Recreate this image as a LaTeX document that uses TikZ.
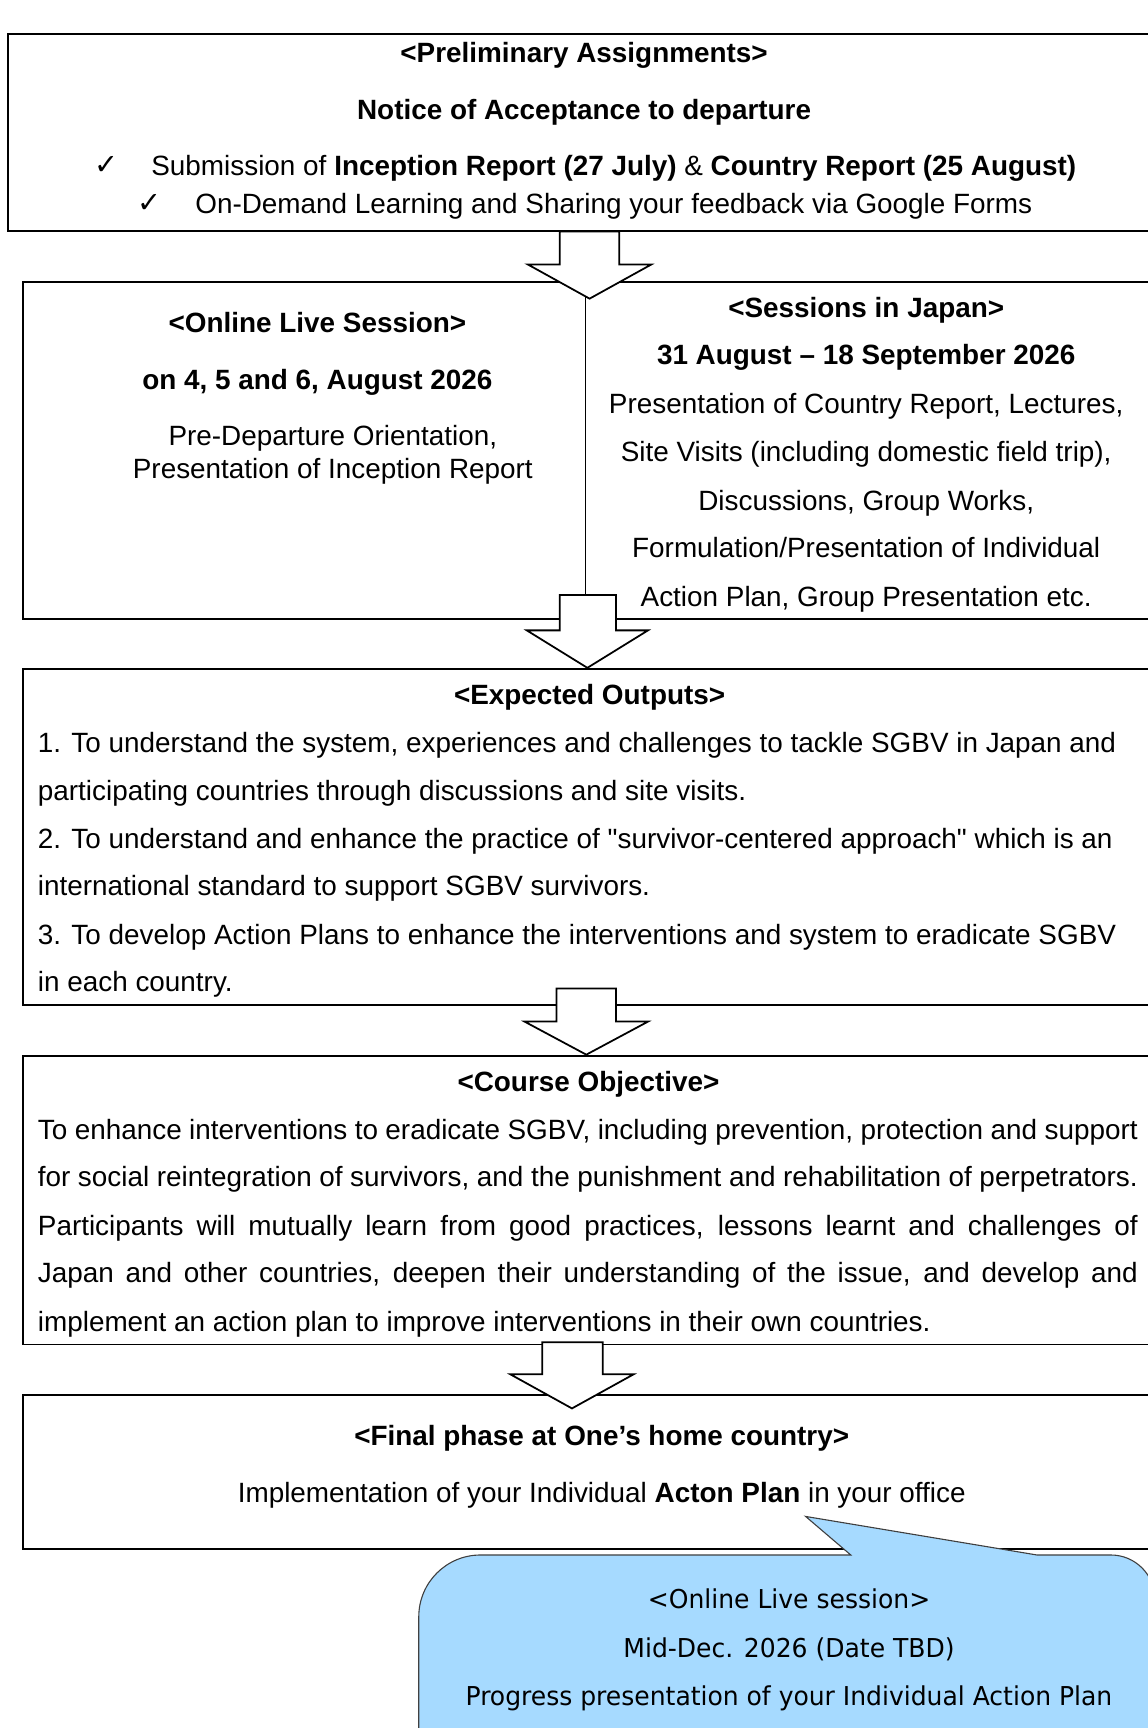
\documentclass[tikz,border=0pt]{standalone}
\usepackage{fontspec}
\setmainfont{Liberation Sans}[Ligatures=TeXOff]
\newfontfamily\tickfont{DejaVu Sans}
\newfontfamily\bubblefont{DejaVu Sans Condensed}[FakeStretch=1.07]
\usetikzlibrary{positioning}
\definecolor{bubbleblue}{RGB}{166,218,255}
\definecolor{bubbleline}{RGB}{64,64,64}

\begin{document}
\begin{tikzpicture}[x=0.5pt, y=-0.5pt,
    box/.style={draw, line width=0.9pt},
    divider/.style={draw, line width=0.5pt},
    blockarrow/.style={draw, line width=0.8pt, fill=white, line join=miter},
    callout/.style={draw=bubbleline, line width=0.5pt, fill=bubbleblue},
    txt/.style={inner sep=0pt, anchor=base, font=\fontsize{12.65pt}{15pt}\selectfont},
    hd/.style={inner sep=0pt, anchor=base, font=\fontsize{12.65pt}{15pt}\selectfont\bfseries},
    lefttxt/.style={txt, anchor=base west},
    tick/.style={inner sep=0pt, anchor=base west, font=\tickfont\fontsize{13pt}{15pt}\selectfont},
    bubbletxt/.style={inner sep=0pt, anchor=base, font=\bubblefont\fontsize{11.8pt}{14pt}\selectfont}]
    \useasboundingbox (0,0) rectangle (1041,1568);

    % the five boxes
    \draw[box] (7,31) rectangle (1060,210);
    \draw[box] (21,256) rectangle (1060,562);
    \draw[divider] (531,256) -- (531,562);
    \draw[box] (21,607) rectangle (1060,912);
    \draw[box] (21,958) rectangle (1060,1220);
    \draw[box] (21,1266) rectangle (1060,1406);

    % block arrows between the boxes
    \draw[blockarrow] (508,210) -- (508,240) -- (479,240) -- (535,271) -- (591,240) -- (562,240) -- (562,210) -- cycle;
    \draw[blockarrow] (508,540) -- (508,572) -- (478,572) -- (533,606) -- (588,572) -- (559,572) -- (559,540) -- cycle;
    \draw[blockarrow] (505,897) -- (505,927) -- (476,927) -- (532,957) -- (588,927) -- (559,927) -- (559,897) -- cycle;
    \draw[blockarrow] (492,1218) -- (492,1247) -- (463,1247) -- (519,1278) -- (575,1247) -- (547,1247) -- (547,1218) -- cycle;

    % speech bubble
    \draw[callout] (380,1620) [rounded corners=28] -- (380,1411) -- (600,1411) [sharp corners] -- (772,1411) -- (731,1376) -- (941,1411) -- (1000,1411) [rounded corners=20] -- (1048,1411) -- (1048,1620) [sharp corners] -- cycle;

    % preliminary assignments
    \node[hd] (prelimtitle) at (530,57) {<Preliminary Assignments>};
    \node[hd] (notice) at (530,108) {Notice of Acceptance to departure};
    \node[tick] (tick1) at (85,158) {✓};
    \node[txt] (submit) at (557,159) {Submission of \textbf{Inception Report (27 July)} \& \textbf{Country Report (25 August)}};
    \node[tick] (tick2) at (124,193) {✓};
    \node[txt] (ondemand) at (557,194) {On-Demand Learning and Sharing your feedback via Google Forms};

    % online live session
    \node[hd] (onlinetitle) at (288,302) {<Online Live Session>};
    \node[hd] (onlinedate) at (288,353) {on 4, 5 and 6, August 2026};
    \node[txt] (predep) at (302,404) {Pre-Departure Orientation,};
    \node[txt] (incep) at (302,434) {Presentation of Inception Report};

    % sessions in japan
    \node[hd] (japantitle) at (786,288) {<Sessions in Japan>};
    \node[hd] (japandate) at (786,331) {31 August – 18 September 2026};
    \node[txt] (japan1) at (786,375) {Presentation of Country Report, Lectures,};
    \node[txt] (japan2) at (786,419) {Site Visits (including domestic field trip),};
    \node[txt] (japan3) at (786,463) {Discussions, Group Works,};
    \node[txt] (japan4) at (786,506) {Formulation/Presentation of Individual};
    \node[txt] (japan5) at (786,550) {Action Plan, Group Presentation etc.};

    % expected outputs
    \node[hd] (outtitle) at (535,639) {<Expected Outputs>};
    \node[lefttxt] (out1) at (34,683) {1. To understand the system, experiences and challenges to tackle SGBV in Japan and};
    \node[lefttxt] (out2) at (34,726) {participating countries through discussions and site visits.};
    \node[lefttxt] (out3) at (34,770) {2. To understand and enhance the practice of "survivor-centered approach" which is an};
    \node[lefttxt] (out4) at (34,813) {international standard to support SGBV survivors.};
    \node[lefttxt] (out5) at (34,857) {3. To develop Action Plans to enhance the interventions and system to eradicate SGBV};
    \node[lefttxt] (out6) at (34,900) {in each country.};

    % course objective
    \node[hd] (objtitle) at (534,990) {<Course Objective>};
    \node[lefttxt] (obj1) at (34,1034) {\makebox[499pt][s]{To enhance interventions to eradicate SGBV, including prevention, protection and support}};
    \node[lefttxt] (obj2) at (34,1077) {\makebox[499pt][s]{for social reintegration of survivors, and the punishment and rehabilitation of perpetrators.}};
    \node[lefttxt] (obj3) at (34,1121) {\makebox[499pt][s]{Participants will mutually learn from good practices, lessons learnt and challenges of}};
    \node[lefttxt] (obj4) at (34,1164) {\makebox[499pt][s]{Japan and other countries, deepen their understanding of the issue, and develop and}};
    \node[lefttxt] (obj5) at (34,1208) {implement an action plan to improve interventions in their own countries.};

    % final phase
    \node[hd] (finaltitle) at (546,1312) {<Final phase at One’s home country>};
    \node[txt] (finalplan) at (546,1363) {Implementation of your Individual \textbf{Acton Plan} in your office};

    % follow-up session in the bubble
    \node[bubbletxt] (bubble1) at (716,1460) {<Online Live session>};
    \node[bubbletxt] (bubble2) at (716,1504) {Mid-Dec. 2026 (Date TBD)};
    \node[bubbletxt] (bubble3) at (716,1548) {Progress presentation of your Individual Action Plan};
\end{tikzpicture}
\end{document}
